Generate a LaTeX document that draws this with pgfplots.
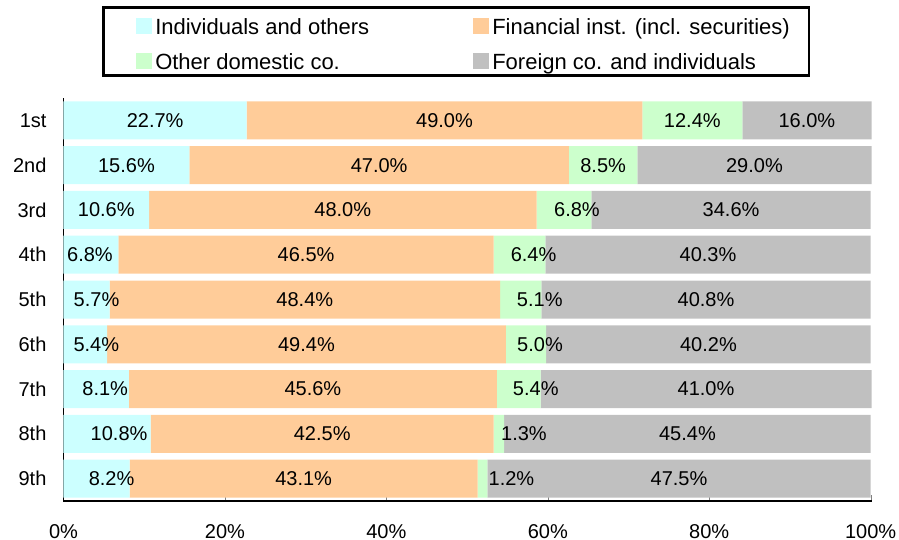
\documentclass[border=0pt]{standalone}
\usepackage{fontspec}
\setmainfont{Liberation Sans}
\usepackage{pgfplots}
\usepackage{pgfplotstable}
\pgfplotsset{compat=1.18}

\definecolor{indiv}{HTML}{CCFFFF}
\definecolor{finan}{HTML}{FFCC99}
\definecolor{otherd}{HTML}{CCFFCC}
\definecolor{foreig}{HTML}{C0C0C0}

% rank, shares (%) and label text "value/offset" (offset of the label in pt)
\pgfplotstableread{
pos ind fin oth for li lf lo lg
1 22.7 49.0 12.4 16.0 22.7/0 49.0/0 12.4/0 16.0/0
2 15.6 47.0 8.5 29.0 15.6/0 47.0/0 8.5/0 29.0/0
3 10.6 48.0 6.8 34.6 10.6/0 48.0/0 6.8/13 34.6/0
4 6.8 46.5 6.4 40.3 6.8/-1 46.5/0 6.4/14 40.3/0
5 5.7 48.4 5.1 40.8 5.7/10 48.4/0 5.1/19 40.8/0
6 5.4 49.4 5.0 40.2 5.4/11 49.4/0 5.0/14 40.2/0
7 8.1 45.6 5.4 41.0 8.1/9 45.6/0 5.4/17 41.0/0
8 10.8 42.5 1.3 45.4 10.8/12 42.5/0 1.3/25 45.4/0
9 8.2 43.1 1.2 47.5 8.2/15 43.1/0 1.2/29 47.5/0
}\shares

\def\seglabel#1/#2\relax{\hspace*{#2pt}\pgfmathprintnumber[fixed,fixed zerofill,precision=1]{#1}\%}

\begin{document}
\begin{tikzpicture}
\begin{axis}[
  at={(0,0)}, anchor=south west,
  scale only axis,
  width=404pt, height=201.5pt,
  xbar stacked, bar width=19pt,
  xmin=0, xmax=100.1,
  ymin=0.5, ymax=9.5, y dir=reverse,
  axis x line*=bottom, axis y line*=left,
  axis line style={line width=0.6pt},
  tick align=inside,
  major tick length=3pt,
  xtick={0,20,40,60,80,100},
  xticklabel={\pgfmathprintnumber{\tick}\%},
  ytick={1,...,9},
  yticklabels={1st,2nd,3rd,4th,5th,6th,7th,8th,9th},
  ytick style={draw=none},
  /pgf/number format/assume math mode=true,
  tick label style={font=\fontsize{10}{12}\selectfont},
  xticklabel style={inner ysep=0pt, yshift=-11.6pt},
  yticklabel style={xshift=-5pt},
  point meta=explicit symbolic,
  nodes near coords={\expandafter\seglabel\pgfplotspointmeta\relax},
  every node near coord/.append style={font=\fontsize{10}{12}\selectfont, anchor=center},
  legend columns=2,
  legend image code/.code={\path[draw=none,fill=none] (-8.5pt,0pt) -- (0pt,0pt);
    \fill[#1] (0pt,-5pt) rectangle (8pt,3pt);},
  legend style={
    at={(0.04765,1.2283)}, anchor=north west,
    draw=black, line width=1.25pt,
    inner xsep=8pt, inner ysep=3pt,
    row sep=7pt,
    font=\fontsize{11}{13}\selectfont,
    nodes={text height=10.5pt, text depth=0pt, inner ysep=0pt, inner xsep=1.5pt},
    /tikz/every even column/.append style={column sep=42pt},
  },
  legend cell align=left,
]
\addplot[fill=indiv, draw=none] table[x=ind, y=pos, meta=li] {\shares};
\addlegendentry{Individuals and others}
\addplot[fill=finan, draw=none] table[x=fin, y=pos, meta=lf] {\shares};
\addlegendentry{Financial inst. (incl. securities)}
\addplot[fill=otherd, draw=none] table[x=oth, y=pos, meta=lo] {\shares};
\addlegendentry{Other domestic co.}
\addplot[fill=foreig, draw=none] table[x=for, y=pos, meta=lg] {\shares};
\addlegendentry{Foreign co. and individuals}
\end{axis}
\pgfresetboundingbox
\useasboundingbox (-31.75pt,-19.5pt) rectangle (417.75pt,250.5pt);
\end{tikzpicture}
\end{document}
